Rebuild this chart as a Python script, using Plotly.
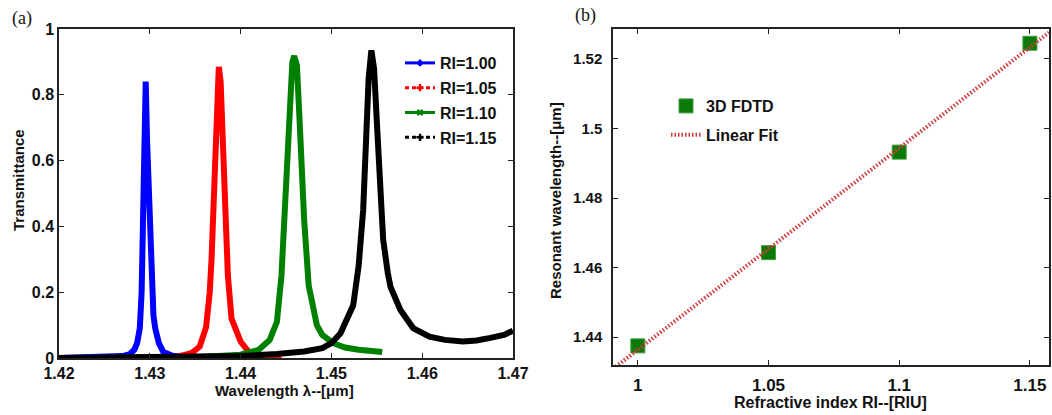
import numpy as np
import plotly.graph_objects as go

# ---------------- data: panel (a) transmittance spectra ----------------
wl_100 = [1.4200, 1.4250, 1.4270, 1.4278, 1.4283, 1.4286, 1.4289, 1.4291, 1.4292, 1.4293,
          1.4294, 1.42955, 1.4297, 1.4299, 1.4300, 1.4302, 1.4304, 1.4306, 1.4310, 1.4315,
          1.4325, 1.4340, 1.4400]
t_100 = [0.000, 0.002, 0.006, 0.012, 0.025, 0.045, 0.090, 0.200, 0.350, 0.450,
         0.620, 0.840, 0.660, 0.480, 0.400, 0.240, 0.130, 0.090, 0.045, 0.018,
         0.007, 0.003, 0.001]

wl_105 = [1.4300, 1.4330, 1.4346, 1.4355, 1.4362, 1.4366, 1.4368, 1.4370, 1.4372, 1.4375,
          1.4376, 1.4378, 1.4381, 1.4383, 1.4386, 1.4390, 1.4394, 1.4400, 1.4410, 1.4425,
          1.4445]
t_105 = [0.000, 0.004, 0.015, 0.035, 0.094, 0.200, 0.300, 0.440, 0.650, 0.860,
         0.885, 0.840, 0.650, 0.440, 0.250, 0.120, 0.090, 0.050, 0.015, 0.006,
         0.002]

wl_110 = [1.4200, 1.4350, 1.4400, 1.4420, 1.4432, 1.4440, 1.4445, 1.4448, 1.4453, 1.4457,
          1.4459, 1.4462, 1.4465, 1.4470, 1.4475, 1.4480, 1.4484, 1.4490, 1.4502, 1.4515,
          1.4530, 1.4556]
t_110 = [0.000, 0.002, 0.010, 0.025, 0.055, 0.110, 0.250, 0.420, 0.720, 0.900,
         0.918, 0.890, 0.720, 0.420, 0.220, 0.140, 0.100, 0.070, 0.045, 0.032,
         0.025, 0.018]

wl_115 = [1.4200, 1.4300, 1.4400, 1.4440, 1.4470, 1.4490, 1.4500, 1.4510, 1.4518, 1.4524,
          1.4530, 1.4535, 1.4538, 1.4541, 1.4544, 1.4547, 1.4550, 1.4554, 1.4557, 1.4562,
          1.4565, 1.4576, 1.4590, 1.4608, 1.4625, 1.4645, 1.4660, 1.4675, 1.4690, 1.4700]
t_115 = [0.000, 0.002, 0.006, 0.012, 0.020, 0.030, 0.045, 0.075, 0.120, 0.160,
         0.280, 0.450, 0.650, 0.850, 0.935, 0.880, 0.720, 0.470, 0.360, 0.260,
         0.217, 0.146, 0.091, 0.065, 0.055, 0.050, 0.053, 0.061, 0.070, 0.083]

series_names = ["RI=1.00", "RI=1.05", "RI=1.10", "RI=1.15"]
series_colors = ["#0000ff", "#ff0000", "#008000", "#000000"]

# ---------------- data: panel (b) resonant wavelength ----------------
ri = [1.00, 1.05, 1.10, 1.15]
res_wl = [1.4375, 1.4643, 1.4932, 1.5245]
fit_x = [0.9905, 1.1573]

a_xticks = [1.42, 1.43, 1.44, 1.45, 1.46, 1.47]
a_yticks = [0, 0.2, 0.4, 0.6, 0.8, 1]
a_ytext = ["0", "0.2", "0.4", "0.6", "0.8", "1"]
b_xticks = [1.00, 1.05, 1.10, 1.15]
b_xtext = ["1", "1.05", "1.1", "1.15"]
b_yticks = [1.44, 1.46, 1.48, 1.50, 1.52]
b_ytext = ["1.44", "1.46", "1.48", "1.5", "1.52"]

W, H = 1052, 415
FONT = "Liberation Sans, Arial, sans-serif"

fig = go.Figure()

# panel (a) curves
spectra = [(wl_100, t_100), (wl_105, t_105), (wl_110, t_110), (wl_115, t_115)]
for (wl, t), c in zip(spectra, series_colors):
    fig.add_trace(go.Scatter(x=wl, y=t, mode="lines", line=dict(color=c, width=6),
                             showlegend=False, xaxis="x", yaxis="y"))

# legend-only entries for panel (a)
dashes = ["solid", "dash", "solid", "dash"]
symbols = ["diamond", "cross", "x", "cross"]
for i, (n, c) in enumerate(zip(series_names, series_colors)):
    fig.add_trace(go.Scatter(x=[None], y=[None], mode="lines+markers", name=n,
                             line=dict(color=c, width=3, dash="4px,3px" if dashes[i] == "dash" else "solid"),
                             marker=dict(color=c, size=6, symbol=symbols[i]),
                             legend="legend", legendgroup=n, xaxis="x", yaxis="y"))

# panel (b)
slope, intercept = np.polyfit(ri, res_wl, 1)
fit_y = [slope * v + intercept for v in fit_x]
fig.add_trace(go.Scatter(x=ri, y=res_wl, mode="markers", name="3D FDTD",
                         marker=dict(symbol="square", size=14, color="#0b7a0b",
                                     line=dict(color="#3f9f3f", width=1)),
                         legend="legend2", legendgroup="fdtd", xaxis="x2", yaxis="y2"))
fig.add_trace(go.Scatter(x=fit_x, y=fit_y, mode="lines", name="Linear Fit",
                         line=dict(color="#cc3b3b", width=4, dash="1.5px,2px"),
                         legend="legend2", legendgroup="fit", xaxis="x2", yaxis="y2"))

axis_common = dict(showline=True, linecolor="#222", linewidth=1.5, mirror="ticks",
                   ticks="inside", ticklen=5, tickcolor="#222", tickwidth=1.2,
                   showgrid=False, zeroline=False, automargin=False)


def ann(text, x, y, size, angle=0, serif=False, bold=True):
    f = dict(size=size)
    if serif:
        f["family"] = "Liberation Serif, Times New Roman, serif"
    elif bold:
        f["weight"] = "bold"
    return dict(text=text, x=x / W, y=1 - y / H, xref="paper", yref="paper",
                xanchor="center", yanchor="middle", showarrow=False,
                textangle=angle, font=f)


fig.update_layout(
    width=W, height=H,
    margin=dict(l=0, r=0, t=0, b=0, autoexpand=False),
    paper_bgcolor="white", plot_bgcolor="white",
    font=dict(family=FONT, color="#111"),
    xaxis=dict(domain=[59 / W, 513 / W], range=[1.42, 1.47], tickvals=a_xticks,
               ticktext=[f"{v:.2f}" for v in a_xticks],
               tickfont=dict(size=16, weight="bold"), anchor="y", **axis_common),
    yaxis=dict(domain=[57 / H, 386 / H], range=[0, 1], tickvals=a_yticks, ticktext=a_ytext,
               tickfont=dict(size=16, weight="bold"), anchor="x", **axis_common),
    xaxis2=dict(domain=[613 / W, 1049 / W], range=[0.9905, 1.1573], tickvals=b_xticks,
                ticktext=b_xtext, tickfont=dict(size=17, weight="bold"), anchor="y2",
                ticklabelstandoff=4, **axis_common),
    yaxis2=dict(domain=[50 / H, 386 / H], range=[1.432, 1.5286], tickvals=b_yticks,
                ticktext=b_ytext, tickfont=dict(size=15, weight="bold"), anchor="x2",
                ticklabelstandoff=6, **axis_common),
    legend=dict(x=400 / W, y=1 - 46 / H, xanchor="left", yanchor="top",
                bgcolor="rgba(0,0,0,0)", borderwidth=0, traceorder="grouped",
                tracegroupgap=1, font=dict(size=16, weight="bold", family=FONT)),
    legend2=dict(x=666 / W, y=1 - 89 / H, xanchor="left", yanchor="top",
                 bgcolor="rgba(0,0,0,0)", borderwidth=0, traceorder="grouped",
                 tracegroupgap=5, font=dict(size=16, weight="bold", family=FONT)),
    annotations=[
        ann("(a)", 22, 19, 18, serif=True),
        ann("(b)", 585, 16, 18, serif=True),
        ann("Transmittance", 18, 180, 15, angle=-90),
        ann("Wavelength λ--[μm]", 284, 390, 15),
        ann("Resonant wavelength--[μm]", 555, 201, 15, angle=-90),
        ann("Refractive index RI--[RIU]", 830, 402, 16),
    ],
)

fig.write_html("out.html", config={"displayModeBar": False},
               post_script="document.body.style.margin='0px';")
